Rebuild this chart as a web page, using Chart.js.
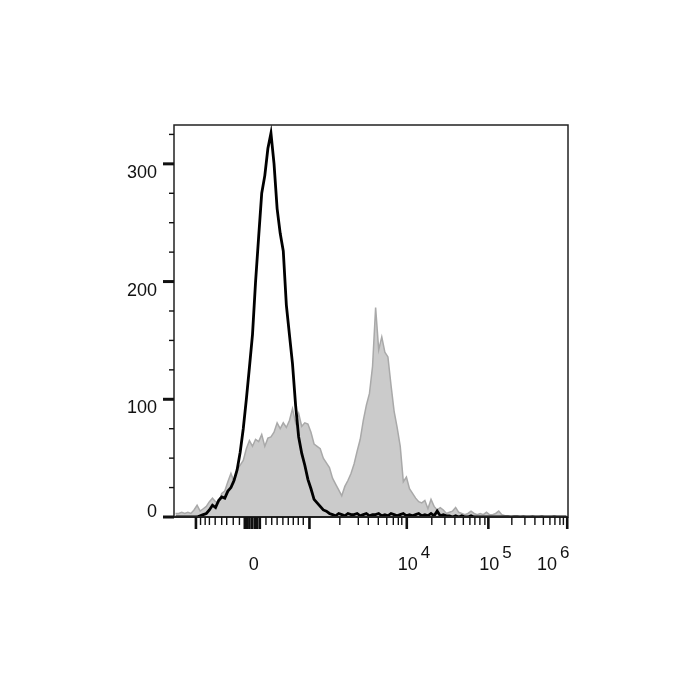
<!DOCTYPE html>
<html>
<head>
<meta charset="utf-8">
<script src="https://cdn.jsdelivr.net/npm/chart.js@4.4.1/dist/chart.umd.min.js"></script>
<style>
html,body{margin:0;padding:0;background:#fff;}
#wrap{width:700px;height:700px;}
</style>
</head>
<body>
<div id="wrap"><canvas id="c" width="700" height="700"></canvas></div>
<script>
// Histogram bins: channel width per bin (display channels 0..1024)
const BIN = 8;
const CH_MAX = 1024;
// Isotype control (black line) counts per bin
const controlCounts = [
  0,0,0,0,0,0,0,0,
  1,2,3,6,10,8,14,17,16,22,25,31,40,
  55,75,100,127,155,200,238,275,290,313,
  326,300,262,241,226,180,155,130,95,68,
  54,44,32,24,15,12,9,6,5,3,
  2,1,3,2,1,3,2,2,3,1,
  2,3,1,2,2,3,1,2,1,3,
  2,1,2,3,1,2,1,2,3,1,
  2,1,3,1,5,1,2,1,1,0,
  1,0,1,0,0,1,0,0,0,0,
  0,0,0,0,0,0,0,0,0,0,0,0,0,0,0,0,0,0,0,0,0,0,0,0,0,0,0
];
// Stained sample (grey filled) counts per bin
const stainedCounts = [
  3,3,4,3,4,3,6,10,5,7,
  9,13,16,13,12,20,22,30,37,30,
  40,44,48,58,65,60,66,64,70,60,
  67,68,72,80,75,80,76,82,92,80,
  88,77,80,79,72,62,60,58,50,46,
  42,33,28,23,18,26,31,37,45,56,
  66,82,95,105,128,178,142,153,140,136,
  112,90,76,60,30,34,24,20,16,13,
  12,14,7,15,9,6,8,6,3,4,
  5,8,4,3,2,3,5,3,2,3,
  2,4,2,2,3,5,2,1,1,0,
  1,1,0,1,0,0,1,0,0,1,
  0,0,0,1,0,0,0,0
];
// Axis ticks (x in display channels, y in counts)
const xMajorTicks = [57, 184, 190, 196, 203, 210, 216, 223, 352, 605, 817, 1022];
const xMinorTicks = [69, 81, 92, 107, 124, 137, 154, 170, 239, 254, 268, 283, 297, 310, 323, 336,
  431, 479, 505, 531, 553, 570, 583, 592, 670, 704, 730, 752, 769, 782, 795, 808,
  878, 912, 938, 960, 977, 990, 1003, 1012];
const xLabelPos = [204.5, 605, 817, 1022];
const xLabelBase = ['0', '10', '10', '10'];
const xLabelExp = ['', '4', '5', '6'];
const yMajorTicks = [0, 100, 200, 300];
const yMinorTicks = [25, 50, 75, 125, 150, 175, 225, 250, 275, 325];
const yLabels = ['0', '100', '200', '300'];
const Y_MAX = 333;

function toPoints(arr){ return arr.map((v,i)=>({x: i*BIN + BIN/2, y: v})); }

const axisPlugin = {
  id: 'flowAxes',
  afterDraw(chart){
    const ctx = chart.ctx, a = chart.chartArea;
    const xs = chart.scales.x, ys = chart.scales.y;
    ctx.save();
    // frame
    ctx.strokeStyle = '#222';
    ctx.lineWidth = 1.5;
    ctx.strokeRect(a.left, a.top, a.right - a.left, a.bottom - a.top);
    // bottom axis line
    ctx.lineWidth = 2.2;
    ctx.beginPath(); ctx.moveTo(a.left - 10, a.bottom); ctx.lineTo(a.right, a.bottom); ctx.stroke();
    ctx.strokeStyle = '#111';
    // x ticks
    ctx.lineWidth = 2.6;
    xMajorTicks.forEach(t=>{ const p = xs.getPixelForValue(t); ctx.beginPath(); ctx.moveTo(p, a.bottom); ctx.lineTo(p, a.bottom + 12); ctx.stroke(); });
    ctx.lineWidth = 1.4;
    xMinorTicks.forEach(t=>{ const p = xs.getPixelForValue(t); ctx.beginPath(); ctx.moveTo(p, a.bottom); ctx.lineTo(p, a.bottom + 8); ctx.stroke(); });
    // y ticks
    ctx.lineWidth = 3;
    yMajorTicks.forEach(t=>{ const p = ys.getPixelForValue(t); ctx.beginPath(); ctx.moveTo(a.left - 11, p); ctx.lineTo(a.left, p); ctx.stroke(); });
    ctx.lineWidth = 1.4;
    yMinorTicks.forEach(t=>{ const p = ys.getPixelForValue(t); ctx.beginPath(); ctx.moveTo(a.left - 5, p); ctx.lineTo(a.left, p); ctx.stroke(); });
    // y labels
    ctx.fillStyle = '#111';
    ctx.font = '18px "Liberation Sans", Arial, sans-serif';
    ctx.textAlign = 'right'; ctx.textBaseline = 'middle';
    yMajorTicks.forEach((t,i)=>{ const p = ys.getPixelForValue(t); ctx.fillText(yLabels[i], a.left - 17, p + (t === 0 ? -5 : 9)); });
    // x labels
    xLabelPos.forEach((t,i)=>{
      let p = xs.getPixelForValue(t) + 1;
      ctx.font = '18px "Liberation Sans", Arial, sans-serif';
      const w = ctx.measureText(xLabelBase[i]).width;
      if (xLabelExp[i]) p = Math.min(p, a.right - 21);
      ctx.textAlign = 'center'; ctx.textBaseline = 'middle';
      ctx.fillText(xLabelBase[i], p, a.bottom + 48);
      if (xLabelExp[i]) {
        ctx.font = '17px "Liberation Sans", Arial, sans-serif';
        ctx.textAlign = 'left';
        ctx.fillText(xLabelExp[i], p + w/2 + 3, a.bottom + 36);
      }
    });
    ctx.restore();
  }
};

new Chart(document.getElementById('c'), {
  type: 'line',
  data: {
    datasets: [
      { label: 'Isotype', data: toPoints(controlCounts), borderColor: '#000', borderWidth: 2.8, fill: false, pointRadius: 0, tension: 0, order: 0 },
      { label: 'Stained', data: toPoints(stainedCounts), borderColor: '#a9a9a9', backgroundColor: '#cbcbcb', borderWidth: 1.5, fill: 'origin', pointRadius: 0, tension: 0, order: 1 }
    ]
  },
  options: {
    responsive: false,
    animation: false,
    layout: { padding: { left: 174, top: 125, right: 132, bottom: 183 } },
    plugins: { legend: { display: false }, tooltip: { enabled: false } },
    scales: {
      x: { type: 'linear', min: 0, max: CH_MAX, display: false },
      y: { type: 'linear', min: 0, max: Y_MAX, display: false }
    }
  },
  plugins: [axisPlugin]
});
</script>
</body>
</html>
